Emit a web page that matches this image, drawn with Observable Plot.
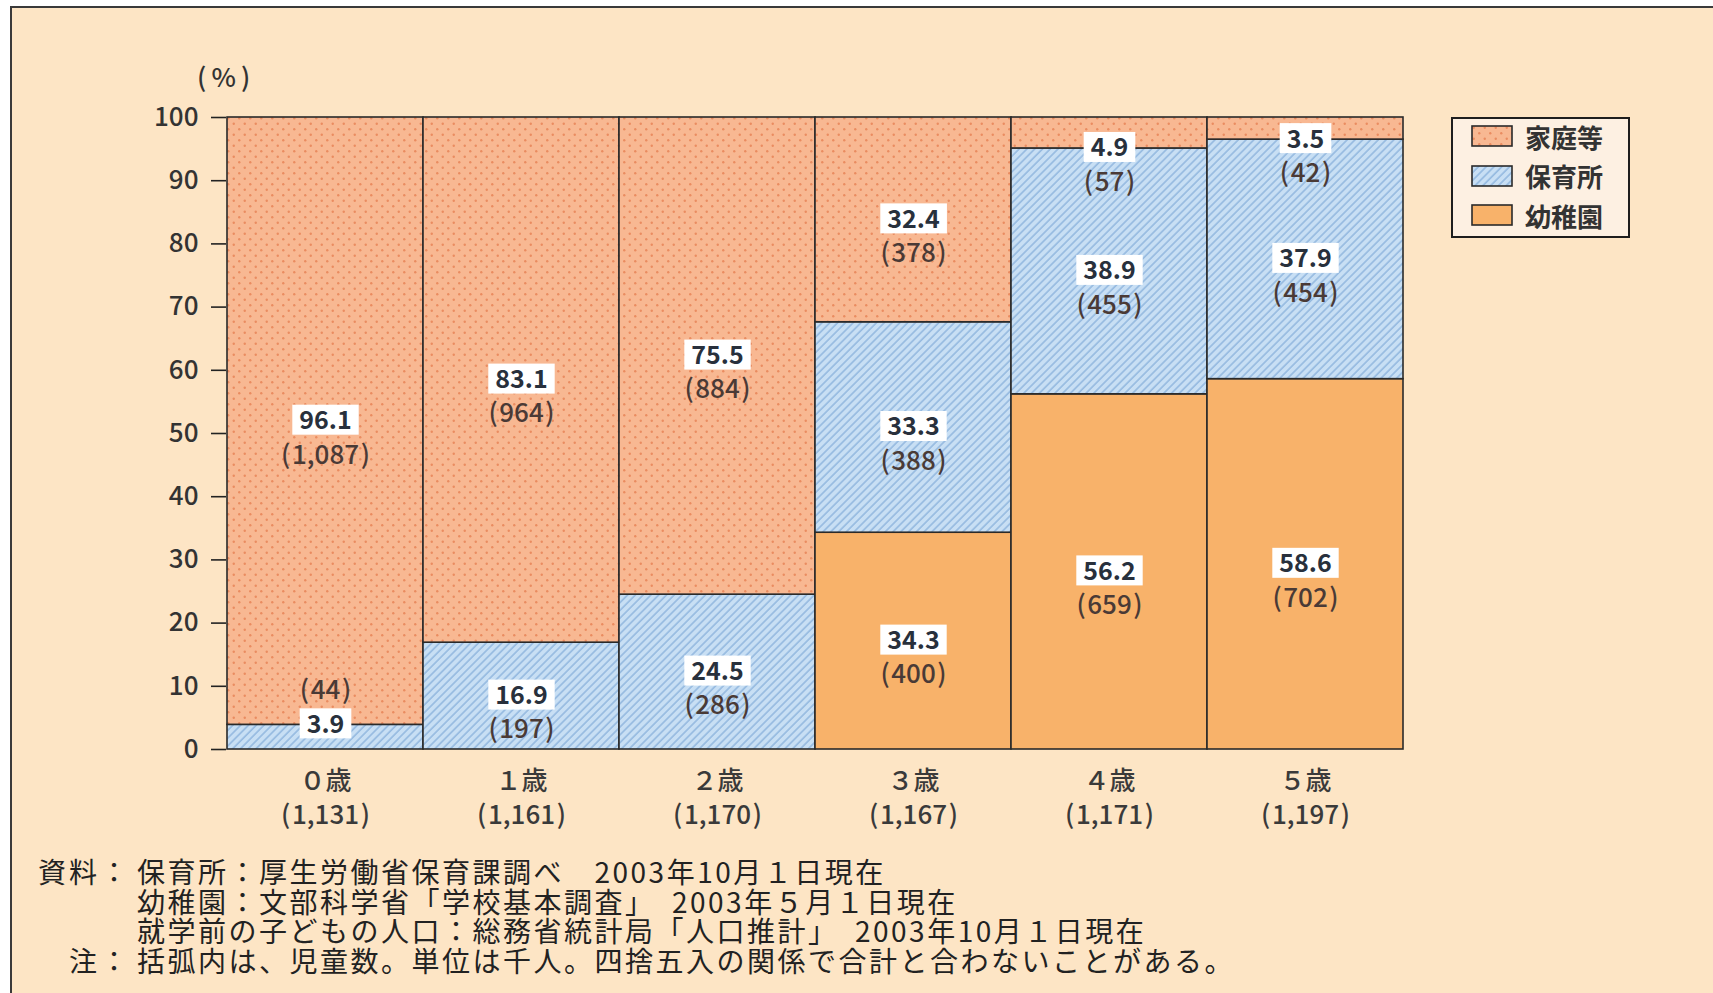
<!DOCTYPE html>
<html><head><meta charset="utf-8">
<script src="https://cdn.jsdelivr.net/npm/d3@7"></script>
<script src="https://cdn.jsdelivr.net/npm/@observablehq/plot@0.6"></script>
<style>
html,body{margin:0;padding:0;background:#fff;}
#page{position:relative;width:1713px;height:993px;overflow:hidden;background:#fff;}
#frame{position:absolute;left:10px;top:6px;width:1760px;height:1040px;border-left:2px solid #3a3a3a;border-top:2px solid #3a3a3a;background:#fde5c5;}
#chart{position:absolute;left:0;top:0;}
#unit{position:absolute;left:197px;top:58px;font:500 26px "Noto Sans CJK JP",sans-serif;color:#333;line-height:36px;}
#legend{position:absolute;left:1451px;top:117px;width:175px;height:117px;border:2px solid #1e1e1e;background:#fdf0e2;font:700 26px "Noto Sans CJK JP",sans-serif;color:#333;}
#legend .item{position:absolute;left:18px;height:30px;display:flex;align-items:center;}
#legend svg{margin-right:12px;}
#notes{position:absolute;left:0;top:857px;font:400 28px/29.5px "Noto Sans CJK JP",serif;color:#222;letter-spacing:2.5px;}
#notes .row{display:flex;white-space:nowrap;height:29.5px;}
#notes .lab{width:131px;text-align:right;margin-right:6px;letter-spacing:3px;}
</style></head>
<body>
<div id="page">
  <div id="frame"></div>
  <svg width="0" height="0" style="position:absolute">
    <defs>
      <pattern id="pHome" width="11" height="11" patternUnits="userSpaceOnUse">
        <rect width="11" height="11" fill="#f8b892"/>
        <circle cx="2.75" cy="2.75" r="1.2" fill="#ea8c60"/>
        <circle cx="8.25" cy="8.25" r="1.2" fill="#ea8c60"/>
      </pattern>
      <pattern id="pNursery" width="5.5" height="5.5" patternUnits="userSpaceOnUse" patternTransform="rotate(45)">
        <rect width="5.5" height="5.5" fill="#c8dff4"/>
        <line x1="1" y1="0" x2="1" y2="5.5" stroke="#94b9e0" stroke-width="1.6"/>
      </pattern>
      <pattern id="pKinder" width="10" height="10" patternUnits="userSpaceOnUse">
        <rect width="10" height="10" fill="#f8b26a"/>
      </pattern>
    </defs>
  </svg>
  <div id="chart"></div>
  <div id="unit">(&#8201;%&#8201;)</div>
  <div id="legend"></div>
  <div id="notes"></div>
</div>
<script>
// ---- data ----
const ages = ["０歳","１歳","２歳","３歳","４歳","５歳"];
const ageTotals = ["1,131","1,161","1,170","1,167","1,171","1,197"];
const seriesNames = ["幼稚園","保育所","家庭等"]; // bottom to top
const legendOrder = ["家庭等","保育所","幼稚園"];
const kinderPct = [0, 0, 0, 34.3, 56.2, 58.6];
const kinderCount = [null, null, null, "400", "659", "702"];
const nurseryPct = [3.9, 16.9, 24.5, 33.3, 38.9, 37.9];
const nurseryCount = ["44", "197", "286", "388", "455", "454"];
const homePct = [96.1, 83.1, 75.5, 32.4, 4.9, 3.5];
const homeCount = ["1,087", "964", "884", "378", "57", "42"];
const yTicks = [0, 10, 20, 30, 40, 50, 60, 70, 80, 90, 100];
const patternOf = {"幼稚園": "url(#pKinder)", "保育所": "url(#pNursery)", "家庭等": "url(#pHome)"};
const notes = [
  ["資料：", "保育所：厚生労働省保育課調べ　2003年10月１日現在"],
  ["", "幼稚園：文部科学省「学校基本調査」　2003年５月１日現在"],
  ["", "就学前の子どもの人口：総務省統計局「人口推計」　2003年10月１日現在"],
  ["注：", "括弧内は、児童数。単位は千人。四捨五入の関係で合計と合わないことがある。"]
];

// ---- build table ----
const pctBySeries = [kinderPct, nurseryPct, homePct];
const countBySeries = [kinderCount, nurseryCount, homeCount];
const totalByAge = new Map(ages.map((a, i) => [a, ageTotals[i]]));
const rows = [];
ages.forEach((age, i) => {
  let base = 0;
  seriesNames.forEach((s, k) => {
    const v = pctBySeries[k][i];
    if (v > 0) rows.push({age, series: s, value: v, count: countBySeries[k][i], y1: base, y2: base + v, top: k === seriesNames.length - 1});
    base += v;
  });
});
rows.forEach(r => {
  const small = r.value < 6;
  r.ly = small ? (r.top ? r.y1 : r.y2) : (r.y1 + r.y2) / 2;
  r.countAbove = small && !r.top;
});
const paren = s => `(\u200A${s}\u200A)`;

const FONT = "'Noto Sans CJK JP', sans-serif";
const chart = Plot.plot({
  width: 1713, height: 860,
  marginLeft: 226, marginRight: 309, marginTop: 117, marginBottom: 111,
  style: {background: "transparent", fontFamily: FONT, overflow: "visible"},
  x: {domain: ages, padding: 0, label: null},
  y: {domain: [0, 100], label: null},
  color: {domain: seriesNames, range: seriesNames.map(s => patternOf[s])},
  marks: [
    Plot.barY(rows, {x: "age", y1: "y1", y2: "y2", fill: "series", stroke: "#2a2a2a", strokeWidth: 1.6}),
    Plot.axisY({ticks: yTicks, tickSize: 15, tickPadding: 13, fontSize: 26, fontWeight: 500, fill: "#333", stroke: "#222", strokeWidth: 1.6, label: null}),
    Plot.axisX({tickSize: 0, tickPadding: 16, fontSize: 26, fontWeight: 500, fill: "#3a3a3a", lineHeight: 1.32, label: null,
      tickFormat: d => `${d}\n${paren(totalByAge.get(d))}`}),
    Plot.text(rows, {x: "age", y: "ly", text: d => d.value.toFixed(1), fontSize: 25, fontWeight: 700, fill: "#28303c", ariaDescription: "vlabel"}),
    Plot.text(rows.filter(r => !r.countAbove), {x: "age", y: "ly", dy: 34, text: d => paren(d.count), fontSize: 26, fontWeight: 500, fill: "#4a3a36"}),
    Plot.text(rows.filter(r => r.countAbove), {x: "age", y: "ly", dy: -34, text: d => paren(d.count), fontSize: 26, fontWeight: 500, fill: "#4a3a36"})
  ]
});
document.getElementById("chart").appendChild(chart);

// white boxes behind value labels
const NS = "http://www.w3.org/2000/svg";
chart.querySelectorAll('g[aria-description="vlabel"] text').forEach(t => {
  const b = t.getBBox();
  const r = document.createElementNS(NS, "rect");
  const h = 30, cy = b.y + b.height / 2 + 1.5;
  r.setAttribute("x", b.x - 7);
  r.setAttribute("y", cy - h / 2);
  r.setAttribute("width", b.width + 14);
  r.setAttribute("height", h);
  r.setAttribute("fill", "#ffffff");
  const tr = t.getAttribute("transform");
  if (tr) r.setAttribute("transform", tr);
  t.parentNode.insertBefore(r, t);
});

// legend
const lg = document.getElementById("legend");
legendOrder.forEach((s, i) => {
  const it = document.createElement("div");
  it.className = "item";
  it.style.top = (2 + i * 39.5) + "px";
  it.innerHTML = `<svg width="42" height="22"><rect x="1" y="1" width="40" height="20" fill="${patternOf[s]}" stroke="#2a2a2a" stroke-width="1.6"/></svg><span>${s}</span>`;
  lg.appendChild(it);
});

// notes
const nt = document.getElementById("notes");
notes.forEach(([a, b]) => {
  const row = document.createElement("div");
  row.className = "row";
  row.innerHTML = `<span class="lab">${a}</span><span>${b}</span>`;
  nt.appendChild(row);
});
</script>
</body></html>
